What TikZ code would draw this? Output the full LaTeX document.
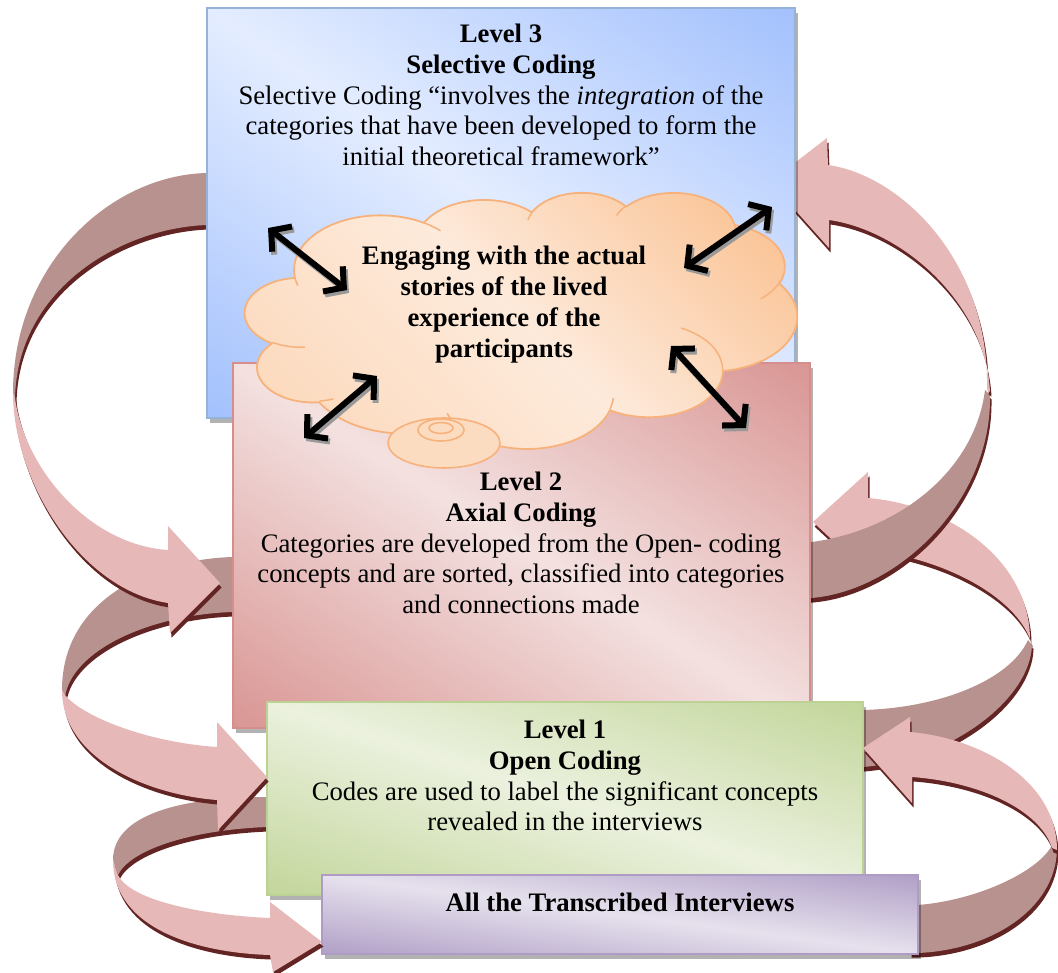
\documentclass[tikz,border=0pt]{standalone}
\usepackage{fontspec}
\setmainfont{Liberation Serif}
\usetikzlibrary{arrows.meta}

% ribbon arrows
\definecolor{ribfront}{HTML}{E6B9B8}
\definecolor{ribback}{HTML}{B8928F}
\definecolor{ribdark}{HTML}{632523}
% boxes
\definecolor{blueLight}{HTML}{E4EDFF}
\definecolor{blueDark}{HTML}{A3C1FD}
\definecolor{blueLine}{HTML}{95B3D7}
\definecolor{pinkLight}{HTML}{F3E1E0}
\definecolor{pinkDark}{HTML}{D99694}
\definecolor{pinkLine}{HTML}{D68E8C}
\definecolor{greenLight}{HTML}{EBF1DE}
\definecolor{greenDark}{HTML}{C3D69B}
\definecolor{greenLine}{HTML}{BCD294}
\definecolor{lilacLight}{HTML}{E6E1ED}
\definecolor{lilacDark}{HTML}{B1A0C7}
\definecolor{lilacLine}{HTML}{AE9CC4}
% cloud
\definecolor{cloudLight}{HTML}{FDEADB}
\definecolor{cloudMid}{HTML}{FCD6B6}
\definecolor{cloudDark}{HTML}{FABC88}
\definecolor{cloudLine}{HTML}{F7B27C}

\pgfdeclareverticalshading{shBlue}{100bp}{color(0bp)=(blueDark); color(15bp)=(blueDark); color(50bp)=(blueLight); color(85bp)=(blueDark); color(100bp)=(blueDark)}
\pgfdeclareverticalshading{shPink}{100bp}{color(0bp)=(pinkDark); color(15bp)=(pinkDark); color(50bp)=(pinkLight); color(85bp)=(pinkDark); color(100bp)=(pinkDark)}
\pgfdeclareverticalshading{shGreen}{100bp}{color(0bp)=(greenDark); color(15bp)=(greenDark); color(50bp)=(greenLight); color(85bp)=(greenDark); color(100bp)=(greenDark)}
\pgfdeclareverticalshading{shLilac}{100bp}{color(0bp)=(lilacDark); color(15bp)=(lilacDark); color(50bp)=(lilacLight); color(85bp)=(lilacDark); color(100bp)=(lilacDark)}
\pgfdeclareverticalshading{shCloud}{100bp}{color(0bp)=(cloudMid); color(15bp)=(cloudMid); color(50bp)=(cloudLight); color(85bp)=(cloudDark); color(100bp)=(cloudDark)}

% one face of a ribbon arrow, with its dark extruded edge below it
\newcommand\ribbonpiece[2]{%
  \fill[ribdark, xshift=1.5pt, yshift=-4.5pt] #2;
  \fill[#1] #2;}

% a level box: name, left, top, width, height, shading, border colour;
% the gradient runs corner to corner, light along the top-left/bottom-right diagonal
\newcommand\gradbox[7]{%
  \fill[black, opacity=0.3] (#2+3,#3+5) rectangle ++(#4,#5);
  \begin{scope}
    \clip (#2,#3) rectangle ++(#4,#5);
    \begin{scope}[shift={(#2+#4/2,#3+#5/2)}, xscale=#4/50.19, yscale=#5/50.19, rotate=-45]
      \pgflowlevelsynccm
      \pgftext{\pgfuseshading{#6}}
    \end{scope}
  \end{scope}
  \node[rectangle, draw=#7, line width=1.3pt, inner sep=0pt, outer sep=0pt,
        minimum width=#4, minimum height=#5, anchor=north west] (#1) at (#2,#3) {};}

% ribbon faces (pixel coordinates, y downwards)
\newcommand\pAback{(215,173) -- (207,173) .. controls (110,175) and (13,265) .. (13,393) -- (15,400) .. controls (16,290) and (120,228) .. (207,225) -- (215,225) -- cycle}
\newcommand\pAfront{(13,393) .. controls (13,480) and (80,590) .. (168,603) -- (170,633) -- (220,583) -- (168,526) -- (168,550) .. controls (90,545) and (25,470) .. (15,398) -- cycle}
\newcommand\pBback{(240,557) -- (232,557) .. controls (150,560) and (62,600) .. (62,690) -- (65,697) .. controls (72,650) and (150,615) .. (232,612) -- (240,612) -- cycle}
\newcommand\pBfront{(62,690) .. controls (62,760) and (150,795) .. (217,800) -- (218,830) -- (267,777) -- (217,722) -- (217,747) .. controls (145,742) and (82,716) .. (65,695) -- cycle}
\newcommand\pCback{(275,797) -- (267,797) .. controls (180,797) and (113,815) .. (113,860) -- (118,875) .. controls (130,850) and (190,830) .. (267,827) -- (275,827) -- cycle}
\newcommand\pCfront{(113,860) .. controls (113,930) and (200,953) .. (270,955) -- (273,972) -- (322,942) -- (270,902) -- (270,918) .. controls (200,915) and (130,900) .. (118,875) -- cycle}
\newcommand\pDback{(800,542) -- (812,542) .. controls (900,530) and (975,470) .. (985,390) -- (990,395) .. controls (992,500) and (900,590) .. (812,598) -- (800,598) -- cycle}
\newcommand\pDfront{(987,390) .. controls (990,260) and (900,175) .. (828,165) -- (827,138) -- (770,182) -- (829,248) -- (829,220) .. controls (900,230) and (985,300) .. (990,392) -- cycle}
\newcommand\pEback{(855,710) -- (863,710) .. controls (940,708) and (1010,680) .. (1028,640) -- (1032,645) .. controls (1030,700) and (950,760) .. (863,767) -- (855,767) -- cycle}
\newcommand\pEfront{(1030,640) .. controls (1030,560) and (950,505) .. (868,498) -- (868,472) -- (813,522) -- (872,577) -- (870,550) .. controls (950,560) and (1020,600) .. (1032,645) -- cycle}
\newcommand\pFback{(910,905) -- (918,905) .. controls (980,900) and (1040,870) .. (1052,845) -- (1057,850) .. controls (1055,910) and (990,950) .. (918,953) -- (910,953) -- cycle}
\newcommand\pFfront{(1057,850) .. controls (1057,780) and (980,738) .. (910,732) -- (910,717) -- (863,748) -- (912,803) -- (912,777) .. controls (980,782) and (1040,810) .. (1052,848) -- cycle}

\begin{document}
\begin{tikzpicture}[x=1pt, y=-1pt,
  txt/.style={align=center, inner sep=0pt, anchor=north, font=\fontsize{26.7}{30.7}\selectfont},
  % elliptic arc given as radii, start angle and sweep, angles measured on the ellipse
  ooarc/.style n args={4}{insert path={arc[x radius=#1, y radius=#2,
      start angle={atan2((#1)*sin(#3),(#2)*cos(#3))},
      delta angle={mod(atan2((#1)*sin((#3)+(#4)),(#2)*cos((#3)+(#4)))-atan2((#1)*sin(#3),(#2)*cos(#3))+720,360)}]}},
  cloudbody/.style={shade, shading=shCloud, shading angle=-45, draw=cloudLine, line width=1.8pt, line join=round},
  crease/.style={draw=cloudLine, line width=1.5pt},
  bubble/.style={fill=cloudMid!70!cloudLight, draw=cloudLine, line width=1.6pt},
  dbl/.style={line width=6pt, {Straight Barb[length=14pt,width=32pt]}-{Straight Barb[length=14pt,width=32pt]}},
  dblshadow/.style={dbl, draw=black!40, transform canvas={shift={(2pt,-3pt)}}}
]
\useasboundingbox (0,0) rectangle (1058,973);
\fill[white] (0,0) rectangle (1058,973);

% ribbon parts lying behind the boxes
\ribbonpiece{ribback}{\pAback}
\ribbonpiece{ribback}{\pBback}
\ribbonpiece{ribback}{\pCback}
\ribbonpiece{ribback}{\pEback}
\ribbonpiece{ribfront}{\pEfront}
\ribbonpiece{ribback}{\pDback}
\ribbonpiece{ribfront}{\pDfront}
\ribbonpiece{ribback}{\pFback}

% the four level boxes
\gradbox{lvl3}{207}{8}{588}{410}{shBlue}{blueLine}
\gradbox{lvl2}{233}{363}{577}{365}{shPink}{pinkLine}
\gradbox{lvl1}{267}{702}{596}{193}{shGreen}{greenLine}
\gradbox{trans}{322}{875}{596}{79}{shLilac}{lilacLine}

% thought cloud
\begin{scope}[shift={(245,192)}, x=0.127778pt, y=-0.059259pt]
  \path[cloudbody] (390,1437)
    [ooarc={675.3}{919.0}{-190.4875}{123.7805}]
    [ooarc={533.3}{726.7}{-144.1024}{89.9452}]
    [ooarc={436.5}{594.5}{-145.8079}{99.7230}]
    [ooarc={485.7}{659.5}{-130.9861}{117.2417}]
    [ooarc={533.3}{727.3}{-78.7089}{109.0269}]
    [ooarc={677.5}{922.0}{-46.2673}{130.2690}]
    [ooarc={578.5}{786.7}{0.6250}{114.0333}]
    [ooarc={675.2}{921.5}{22.4516}{115.1726}]
    [ooarc={772.0}{1054.3}{66.2426}{75.7110}]
    [ooarc={436.0}{591.8}{-274.9421}{146.7356}]
    [ooarc={434.5}{594.5}{-246.8285}{152.5189}] -- cycle;
  \path[crease]
    (469.3,2617.7) [ooarc={434.5}{594.5}{86.742}{26.430}]
    (692.8,3489.9) [ooarc={436.0}{591.8}{73.610}{11.447}]
    (1647.8,3909.0) [ooarc={675.2}{921.5}{137.624}{14.081}]
    (2882.7,3475.1) [ooarc={675.2}{921.5}{6.453}{15.998}]
    (3412.9,2295.4) [ooarc={578.5}{786.7}{-70.292}{70.917}]
    (4179.8,1535.4) [ooarc={533.3}{727.3}{30.318}{27.752}]
    (3832.4,542.6) [ooarc={485.7}{659.5}{-13.744}{14.859}]
    (2907.8,395.2) [ooarc={485.7}{659.5}{-149.181}{18.195}]
    (2214.1,472.0) [ooarc={436.5}{594.5}{-163.494}{17.686}]
    (1400.0,519.2) [ooarc={675.3}{919.0}{-66.707}{12.319}]
    (412.7,1578.9) [ooarc={675.3}{919.0}{157.654}{11.858}];
\end{scope}
% bubbles of the cloud's tail
\path[bubble] (444,443) ellipse [x radius=56, y radius=25];
\path[bubble] (441,430) ellipse [x radius=23, y radius=11];
\path[bubble] (441,428) ellipse [x radius=12, y radius=5.5];

% texts
\node[txt] (t3) at (501,24) {\textbf{Level 3}\\\textbf{Selective Coding}\\Selective Coding “involves the \textit{integration} of the\\categories that have been developed to form the\\initial theoretical framework”};
\node[txt, font=\fontsize{26.7}{31}\selectfont\bfseries] (tc) at (504,246) {Engaging with the actual\\stories of the lived\\experience of the\\participants};
\node[txt] (t2) at (521,472) {\textbf{Level 2}\\\textbf{Axial Coding}\\Categories are developed from the Open- coding\\concepts and are sorted, classified into categories\\and connections made};
\node[txt] (t1) at (565,720) {\textbf{Level 1}\\\textbf{Open Coding}\\Codes are used to label the significant concepts\\revealed in the interviews};
\node[txt] (t0) at (620,893) {\textbf{All the Transcribed Interviews}};

% double arrows around the cloud
\coordinate (ula) at (268,228); \coordinate (ulb) at (347,290);
\coordinate (ura) at (772,207); \coordinate (urb) at (684,268);
\coordinate (lla) at (377,376); \coordinate (llb) at (304,438);
\coordinate (lra) at (671,346); \coordinate (lrb) at (746,428);
\foreach \a/\b in {ula/ulb, ura/urb, lla/llb, lra/lrb}{
  \draw[dblshadow] (\a) -- (\b);
  \draw[dbl] (\a) -- (\b);
}

% ribbon parts lying in front
\ribbonpiece{ribfront}{\pAfront}
\ribbonpiece{ribfront}{\pBfront}
\ribbonpiece{ribfront}{\pCfront}
\ribbonpiece{ribfront}{\pFfront}
\end{tikzpicture}
\end{document}
